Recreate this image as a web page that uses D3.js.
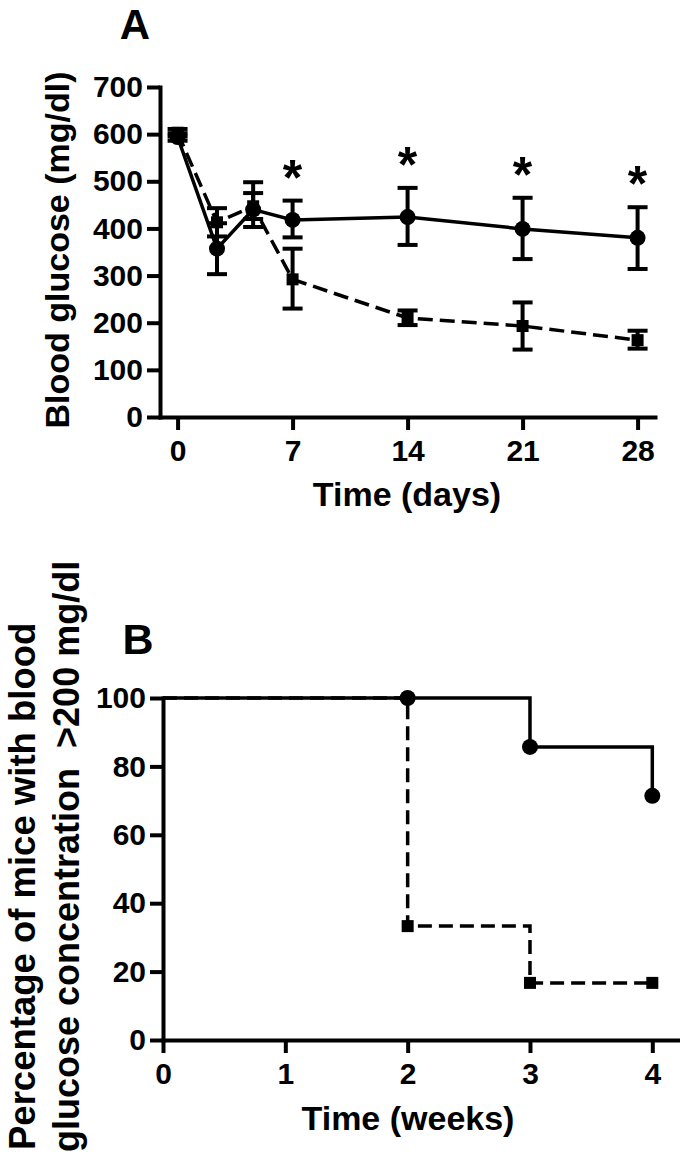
<!DOCTYPE html>
<html>
<head>
<meta charset="utf-8">
<script src="https://cdn.jsdelivr.net/npm/d3@7"></script>
<style>
  html, body { margin: 0; padding: 0; background: #fff; }
  svg { display: block; }
  text { font-family: "Liberation Sans", Arial, sans-serif; font-weight: bold; fill: #000; }
</style>
</head>
<body>
<script>
// ---------- Panel A data ----------
const daysA = [0, 2.4, 4.6, 7, 14, 21, 28];
const daysTicksA = [0, 7, 14, 21, 28];
const glucoseTicks = [0, 100, 200, 300, 400, 500, 600, 700];
const solidMean = [594, 357, 440, 418, 424, 399, 380];
const solidLow  = [586, 303, 403, 381, 365, 335, 314];
const solidHigh = [602, 411, 498, 459, 486, 465, 445];
const dashedMean = [603, 413, 447, 292, 210, 193, 163];
const dashedLow  = [595, 383, 420, 230, 195, 143, 145];
const dashedHigh = [611, 443, 475, 357, 226, 243, 183];
const starDays = [7, 14, 21, 28];

// ---------- Panel B data ----------
const weeksB = [0, 2, 3, 4];
const weekTicksB = [0, 1, 2, 3, 4];
const pctTicks = [0, 20, 40, 60, 80, 100];
const solidPct = [100, 100, 85.7, 71.4];
const dashedPct = [100, 33.3, 16.7, 16.7];
const markerWeeks = [2, 3, 4];

const W = 680, H = 1158;
const svg = d3.select("body").append("svg").attr("width", W).attr("height", H);

function styleAxis(g, fontSize) {
  g.select(".domain").attr("stroke", "#000").attr("stroke-width", 4).attr("stroke-linecap", "square");
  g.selectAll(".tick line").attr("stroke", "#000").attr("stroke-width", 4);
  g.selectAll(".tick text").style("font-size", fontSize + "px").style("font-family", '"Liberation Sans", Arial, sans-serif').style("font-weight", "bold");
}

// ================= Panel A =================
const xA = d3.scaleLinear().domain([-1.07, 29.06]).range([160, 655]);
const yA = d3.scaleLinear().domain([0, 700]).range([417, 87]);

const gA = svg.append("g");

const axXA = gA.append("g").attr("transform", "translate(0,417)")
  .call(d3.axisBottom(xA).tickValues(daysTicksA).tickSize(13).tickSizeOuter(0).tickPadding(10).tickFormat(d3.format("d")));
styleAxis(axXA, 30);
const axYA = gA.append("g").attr("transform", "translate(160,0)")
  .call(d3.axisLeft(yA).tickValues(glucoseTicks).tickSize(13).tickSizeOuter(0).tickPadding(4).tickFormat(d3.format("d")));
styleAxis(axYA, 30);

function drawSeriesA(mean, low, high, dashed, marker) {
  const pts = daysA.map((d, i) => ({ x: d, y: mean[i], lo: low[i], hi: high[i] }));
  const line = d3.line().x(d => xA(d.x)).y(d => yA(d.y));
  gA.append("path").datum(pts).attr("d", line).attr("fill", "none").attr("stroke", "#000")
    .attr("stroke-width", 3.5).attr("stroke-dasharray", dashed ? "15,7" : null);
  const eb = gA.append("g");
  pts.forEach(p => {
    eb.append("line").attr("x1", xA(p.x)).attr("x2", xA(p.x)).attr("y1", yA(p.lo)).attr("y2", yA(p.hi))
      .attr("stroke", "#000").attr("stroke-width", 4);
    [p.lo, p.hi].forEach(v => {
      eb.append("line").attr("x1", xA(p.x) - 10).attr("x2", xA(p.x) + 10).attr("y1", yA(v)).attr("y2", yA(v))
        .attr("stroke", "#000").attr("stroke-width", 4);
    });
  });
  if (marker === "circle") {
    gA.selectAll(null).data(pts).enter().append("circle")
      .attr("cx", d => xA(d.x)).attr("cy", d => yA(d.y)).attr("r", 8).attr("fill", "#000");
  } else {
    gA.selectAll(null).data(pts).enter().append("rect")
      .attr("x", d => xA(d.x) - 6).attr("y", d => yA(d.y) - 6).attr("width", 12).attr("height", 12).attr("fill", "#000");
  }
}
drawSeriesA(dashedMean, dashedLow, dashedHigh, true, "square");
drawSeriesA(solidMean, solidLow, solidHigh, false, "circle");

// asterisks
starDays.forEach(d => {
  const i = daysA.indexOf(d);
  gA.append("text").attr("x", xA(d)).attr("y", yA(solidHigh[i]) - 6)
    .attr("text-anchor", "middle").style("font-size", "50px").text("*");
});

gA.append("text").attr("x", 407).attr("y", 506).attr("text-anchor", "middle").style("font-size", "34px").text("Time (days)");
gA.append("text").attr("transform", "translate(69,250) rotate(-90)").attr("text-anchor", "middle")
  .style("font-size", "34px").text("Blood glucose (mg/dl)");
gA.append("text").attr("x", 135).attr("y", 39).attr("text-anchor", "middle").style("font-size", "42px").text("A");

// ================= Panel B =================
const xB = d3.scaleLinear().domain([0, 4.21]).range([163, 678]);
const yB = d3.scaleLinear().domain([0, 100]).range([1040, 698]);
const gB = svg.append("g");

const axXB = gB.append("g").attr("transform", "translate(0,1040)")
  .call(d3.axisBottom(xB).tickValues(weekTicksB).tickSize(13).tickSizeOuter(0).tickPadding(10).tickFormat(d3.format("d")));
styleAxis(axXB, 30);
const axYB = gB.append("g").attr("transform", "translate(163,0)")
  .call(d3.axisLeft(yB).tickValues(pctTicks).tickSize(13).tickSizeOuter(0).tickPadding(4).tickFormat(d3.format("d")));
styleAxis(axYB, 30);

const stepLine = d3.line().curve(d3.curveStepAfter).x(d => xB(d[0])).y(d => yB(d[1]));
const dashedPts = weeksB.map((w, i) => [w, dashedPct[i]]);
const solidPts = weeksB.map((w, i) => [w, solidPct[i]]);
gB.append("path").attr("d", stepLine(dashedPts)).attr("fill", "none").attr("stroke", "#000")
  .attr("stroke-width", 3.5).attr("stroke-dasharray", "14,7");
gB.append("path").attr("d", stepLine(solidPts)).attr("fill", "none").attr("stroke", "#000").attr("stroke-width", 3.5);

const dMarks = dashedPts.filter(p => markerWeeks.includes(p[0]));
const sMarks = solidPts.filter(p => markerWeeks.includes(p[0]));
gB.selectAll(null).data(dMarks).enter().append("rect")
  .attr("x", d => xB(d[0]) - 6).attr("y", d => yB(d[1]) - 6).attr("width", 12).attr("height", 12).attr("fill", "#000");
gB.selectAll(null).data(sMarks).enter().append("circle")
  .attr("cx", d => xB(d[0])).attr("cy", d => yB(d[1])).attr("r", 8).attr("fill", "#000");

gB.append("text").attr("x", 408).attr("y", 1130).attr("text-anchor", "middle").style("font-size", "34px").text("Time (weeks)");
gB.append("text").attr("transform", "translate(35,1150) rotate(-90)").attr("text-anchor", "start")
  .style("font-size", "36.5px").text("Percentage of mice with blood");
gB.append("text").attr("transform", "translate(79,1152) rotate(-90)").attr("text-anchor", "start")
  .style("font-size", "36px").style("white-space", "pre").text("glucose concentration  >200 mg/dl");
gB.append("text").attr("x", 138).attr("y", 654).attr("text-anchor", "middle").style("font-size", "43px").text("B");
</script>
</body>
</html>
